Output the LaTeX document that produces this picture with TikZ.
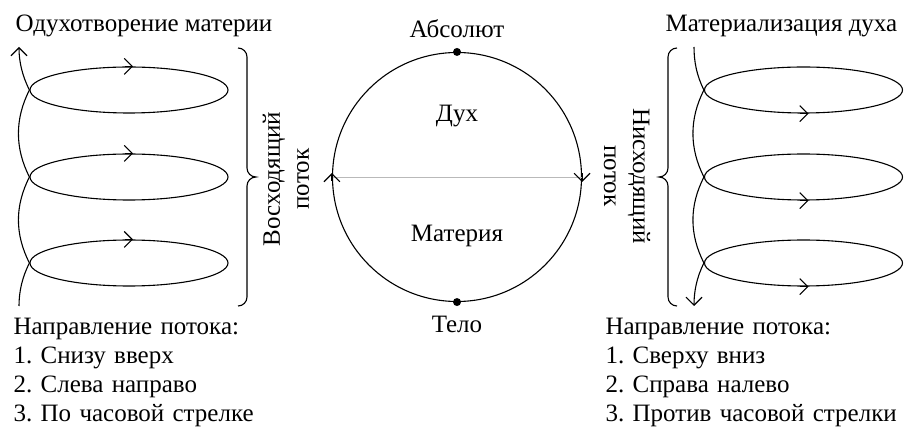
\documentclass[tikz,border=0pt]{standalone}
\usepackage{fontspec}
\setmainfont{Liberation Serif}
\frenchspacing
\usetikzlibrary{positioning,arrows.meta,shapes.geometric}

\begin{document}
\begin{tikzpicture}[
    x=1pt, y=1pt,
    line width=1.1pt,
    lbl/.style={font=\fontsize{25}{29}\selectfont, inner sep=0pt},
    block/.style={lbl, anchor=base west, align=left, text width=300pt},
    coil/.style={ellipse, draw, minimum width=198pt, minimum height=46pt, inner sep=0pt},
    globe/.style={circle, draw, minimum size=249pt, inner sep=0pt},
    dot/.style={circle, fill, inner sep=0pt, minimum size=8pt},
    barb/.style={-{Straight Barb[length=8pt,width=16pt]}},
    diam/.style={gray!55, line width=0.8pt}
]
\useasboundingbox (0,0) rectangle (904,428);

% ---------------- Rising flow (left) ----------------
\node[lbl, anchor=base west] (uptitle) at (15,396) {Одухотворение материи};
\node[coil] (up1) at (129,338) {};
\node[coil] (up2) at (129,251) {};
\node[coil] (up3) at (129,165) {};
\coordinate (upbot) at (19,122);
\coordinate (uptop) at (19,381);

\draw[barb] (upbot) .. controls +(0,14.4) and +(-7.3,-14.3) .. (up3.west)
    .. controls +(-14.7,28.7) and +(-14.7,-28.7) .. (up2.west)
    .. controls +(-14.7,28.7) and +(-14.7,-28.7) .. (up1.west)
    .. controls +(-7.3,14.3) and +(0,-14.4) .. (uptop);
\draw[barb] ([xshift=-4pt]up1.north) -- ([xshift=4pt]up1.north);
\draw[barb] ([xshift=-4pt]up2.north) -- ([xshift=4pt]up2.north);
\draw[barb] ([xshift=-4pt]up3.north) -- ([xshift=4pt]up3.north);

\draw (238,380) to[out=0,in=90] (247,371) -- (247,260) to[out=-90,in=180] (256,251)
    to[out=180,in=90] (247,242) -- (247,131) to[out=-90,in=0] (238,122);
\node[lbl, rotate=90, align=center] (uplabel) at (286,249) {Восходящий\\поток};

\node[block] (upnotes) at (13,93) {Направление потока:\\1. Снизу вверх\\2. Слева направо\\3. По часовой стрелке};

% ---------------- Circle ----------------
\node[globe] (globe) at (457,251) {};
\draw[diam] (globe.west) -- (globe.east);
\draw[barb] ([yshift=-4pt]globe.west) -- ([yshift=4pt]globe.west);
\draw[barb] ([yshift=4pt]globe.east) -- ([yshift=-5pt]globe.east);
\node[dot] (zenith) at (globe.north) {};
\node[dot] (nadir) at (globe.south) {};

\node[lbl, anchor=base] (absolute) at (457,390) {Абсолют};
\node[lbl, anchor=base] (spirit) at (457,306) {Дух};
\node[lbl, anchor=base] (matter) at (457,186) {Материя};
\node[lbl, anchor=base] (body) at (457,95) {Тело};

% ---------------- Descending flow (right) ----------------
\node[lbl, anchor=base west] (dntitle) at (665,396) {Материализация духа};
\node[coil] (dn1) at (803.5,338) {};
\node[coil] (dn2) at (803.5,251) {};
\node[coil] (dn3) at (803.5,165) {};
\coordinate (dntop) at (694,381);
\coordinate (dnbot) at (694,122);

\draw[barb] (dntop) .. controls +(0,-14.4) and +(-7.3,14.3) .. (dn1.west)
    .. controls +(-14.7,-28.7) and +(-14.7,28.7) .. (dn2.west)
    .. controls +(-14.7,-28.7) and +(-14.7,28.7) .. (dn3.west)
    .. controls +(-7.3,-14.3) and +(0,14.4) .. (dnbot);
\draw[barb] ([xshift=-4pt]dn1.south) -- ([xshift=5pt]dn1.south);
\draw[barb] ([xshift=-4pt]dn2.south) -- ([xshift=5pt]dn2.south);
\draw[barb] ([xshift=-4pt]dn3.south) -- ([xshift=5pt]dn3.south);

\draw (677,380) to[out=180,in=90] (668,371) -- (668,260) to[out=-90,in=0] (659,251)
    to[out=0,in=90] (668,242) -- (668,131) to[out=-90,in=180] (677,122);
\node[lbl, rotate=-90, align=center] (dnlabel) at (627,252) {Нисходящий\\поток};

\node[block] (dnnotes) at (605,93) {Направление потока:\\1. Сверху вниз\\2. Справа налево\\3. Против часовой стрелки};

\end{tikzpicture}
\end{document}
